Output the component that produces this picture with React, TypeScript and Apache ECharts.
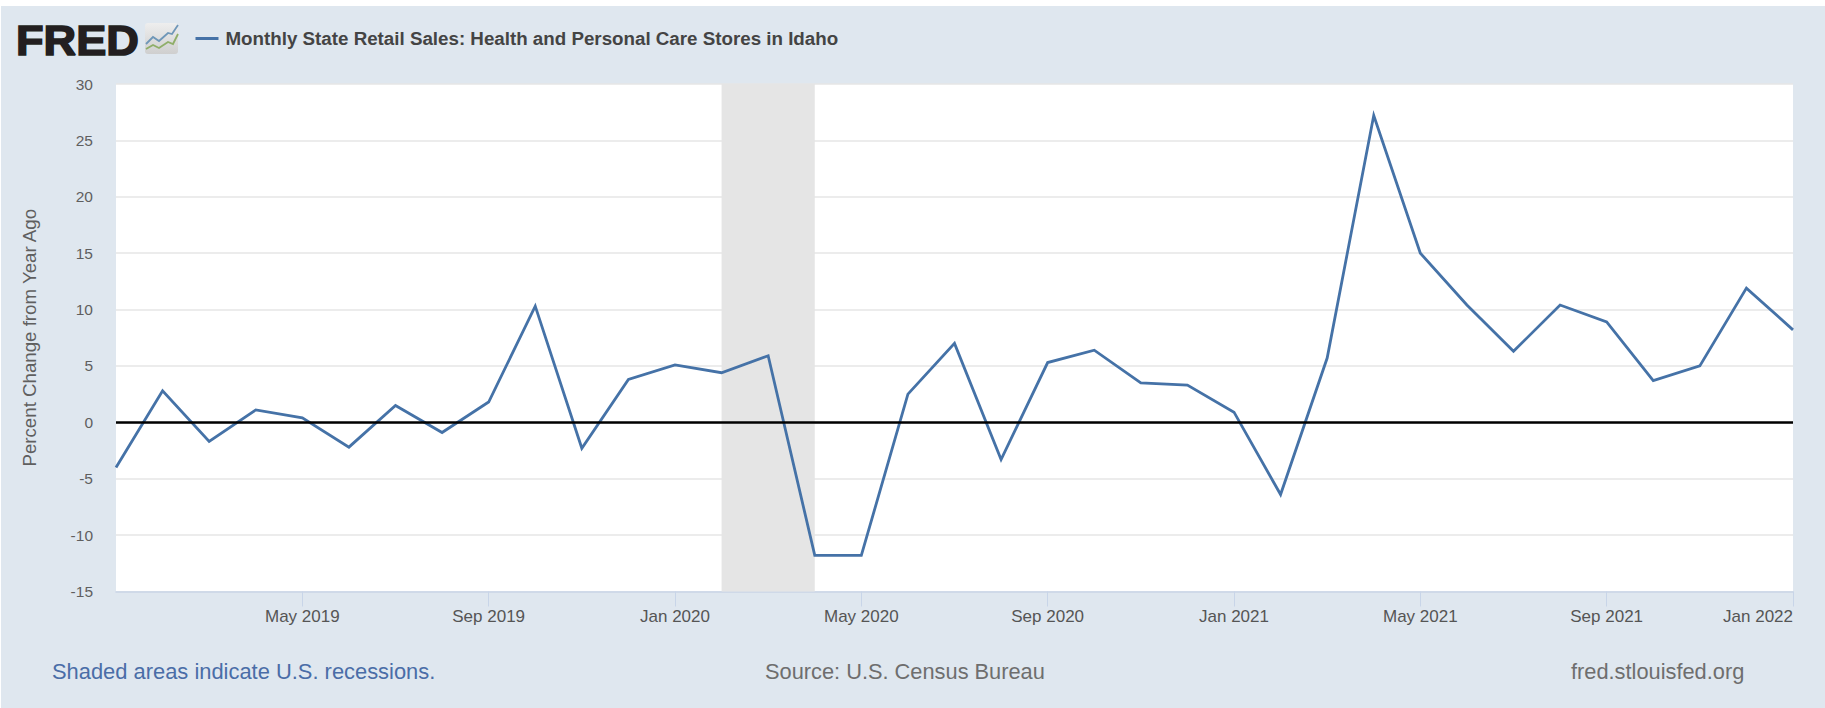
import React, { useEffect, useRef } from "react";
import * as echarts from "echarts";

const seriesName = "Monthly State Retail Sales: Health and Personal Care Stores in Idaho";
const months = [
  "Jan 2019", "Feb 2019", "Mar 2019", "Apr 2019", "May 2019", "Jun 2019", "Jul 2019", "Aug 2019", "Sep 2019", "Oct 2019", "Nov 2019", "Dec 2019",
  "Jan 2020", "Feb 2020", "Mar 2020", "Apr 2020", "May 2020", "Jun 2020", "Jul 2020", "Aug 2020", "Sep 2020", "Oct 2020", "Nov 2020", "Dec 2020",
  "Jan 2021", "Feb 2021", "Mar 2021", "Apr 2021", "May 2021", "Jun 2021", "Jul 2021", "Aug 2021", "Sep 2021", "Oct 2021", "Nov 2021", "Dec 2021",
  "Jan 2022",
];
const values = [
  -4, 2.8, -1.7, 1.1, 0.4, -2.2, 1.5, -0.9, 1.8, 10.3, -2.3, 3.8,
  5.1, 4.4, 5.9, -11.8, -11.8, 2.5, 7, -3.3, 5.3, 6.4, 3.5, 3.3,
  0.9, -6.4, 5.7, 27.2, 15, 10.4, 6.3, 10.4, 8.9, 3.7, 5, 11.9,
  8.2,
];
const tickLabels = ["May 2019", "Sep 2019", "Jan 2020", "May 2020", "Sep 2020", "Jan 2021", "May 2021", "Sep 2021", "Jan 2022"];
const recession = ["Feb 2020", "Apr 2020"];
const yAxisTitle = "Percent Change from Year Ago";
const noteLeft = "Shaded areas indicate U.S. recessions.";
const noteMid = "Source: U.S. Census Bureau";
const noteRight = "fred.stlouisfed.org";
const logoText = "FRED";

const BG = "#dfe7ef";
const FONT = "'Liberation Sans', Arial, sans-serif";

export default function App() {
  const ref = useRef<HTMLDivElement>(null);
  useEffect(() => {
    const chart = echarts.init(ref.current!, undefined, { renderer: "svg" });
    const showTick = (i: number) => tickLabels.includes(months[i]);
    chart.setOption({
      animation: false,
      backgroundColor: "#ffffff",
      textStyle: { fontFamily: FONT },
      grid: { left: 116, right: 32, top: 84, bottom: 116.5, show: true, backgroundColor: "#ffffff", borderWidth: 0, containLabel: false },
      legend: {
        left: 190.5,
        top: 24,
        icon: "rect",
        itemWidth: 23,
        itemHeight: 3,
        selectedMode: false,
        textStyle: { color: "#444444", fontSize: 18.75, fontWeight: "bold", fontFamily: FONT, padding: [0, 0, 0, 2] },
        data: [seriesName],
      },
      xAxis: {
        type: "category",
        boundaryGap: false,
        data: months,
        axisLine: { show: true, onZero: false, lineStyle: { color: "#c8d5e8", width: 1.5 } },
        axisTick: { show: true, length: 15, interval: (i: number) => showTick(i), lineStyle: { color: "#c8d5e8", width: 1 } },
        axisLabel: {
          interval: (i: number) => showTick(i),
          color: "#555555",
          fontSize: 17,
          fontFamily: FONT,
          margin: 16,
          alignMaxLabel: "right",
        },
        splitLine: { show: false },
      },
      yAxis: {
        type: "value",
        min: -15,
        max: 30,
        interval: 5,
        name: yAxisTitle,
        nameLocation: "middle",
        nameGap: 77,
        nameRotate: 90,
        nameTextStyle: { color: "#5f5f5f", fontSize: 18.7, fontFamily: FONT },
        axisLine: { show: false },
        axisTick: { show: false },
        axisLabel: { color: "#5f5f5f", fontSize: 15.5, margin: 23, fontFamily: FONT },
        splitLine: { show: true, lineStyle: { color: "#e6e6e6", width: 1.5 } },
      },
      series: [
        {
          name: seriesName,
          type: "line",
          data: values,
          showSymbol: false,
          symbol: "none",
          lineStyle: { color: "#4572a7", width: 2.8, join: "miter" },
          itemStyle: { color: "#4572a7" },
          markArea: {
            silent: true,
            itemStyle: { color: "#e5e5e5" },
            data: [[{ xAxis: recession[0] }, { xAxis: recession[1] }]],
          },
          markLine: {
            silent: true,
            symbol: "none",
            label: { show: false },
            lineStyle: { color: "#000000", width: 2.6, type: "solid" },
            data: [{ yAxis: 0 }],
          },
        },
      ],
      graphic: [
        { type: "rect", z: -10, shape: { x: 1, y: 6, width: 1824, height: 702 }, style: { fill: BG } },
        { type: "text", x: 16, y: 18, scaleX: 1.05, style: { text: logoText, fill: "#231f20", font: `bold 43px ${FONT}`, stroke: "#231f20", lineWidth: 1.6 } },
        {
          type: "rect",
          shape: { x: 145, y: 23, width: 33, height: 31, r: 3 },
          style: {
            fill: new echarts.graphic.LinearGradient(0, 0, 0, 1, [
              { offset: 0, color: "#eeeeee" },
              { offset: 1, color: "#cfcfcf" },
            ]),
          },
        },
        { type: "polyline", shape: { points: [[146, 44], [153, 37], [159, 41], [168, 33], [172, 34], [178, 25]] }, style: { stroke: "#6f97b8", fill: "none", lineWidth: 1.8 } },
        { type: "polyline", shape: { points: [[146, 49], [153, 45], [159, 48], [168, 42], [173, 44], [178, 34]] }, style: { stroke: "#8fae68", fill: "none", lineWidth: 1.8 } },
        { type: "text", x: 52, y: 671, style: { text: noteLeft, fill: "#4a6da7", font: `21.9px ${FONT}`, verticalAlign: "middle" } },
        { type: "text", x: 765, y: 671, style: { text: noteMid, fill: "#6e6e6e", font: `21.8px ${FONT}`, verticalAlign: "middle" } },
        { type: "text", x: 1571, y: 671, style: { text: noteRight, fill: "#6e6e6e", font: `21.8px ${FONT}`, verticalAlign: "middle" } },
      ],
    });
    return () => chart.dispose();
  }, []);
  return <div ref={ref} style={{ position: "absolute", left: 0, top: 0, width: 1825, height: 708 }} />;
}
